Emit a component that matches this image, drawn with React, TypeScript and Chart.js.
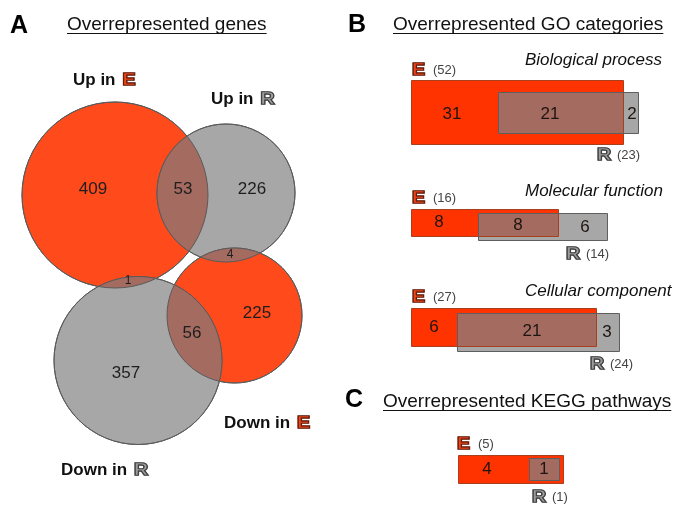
import React, { useEffect, useRef } from 'react';
import { Chart, registerables } from 'chart.js';

Chart.register(...registerables);

const W = 685;
const H = 516;

// ---------- DATA ----------
// Panel A: Venn diagrams of over-represented genes
const vennSetNames = ['Up in', 'Up in', 'Down in', 'Down in'];
const vennSetIcons = ['E', 'R', 'E', 'R'];
// regions: UpE only, UpE∩UpR, UpR only, UpR∩DownE, UpE∩DownR, DownE only, DownE∩DownR, DownR only
const vennRegionCounts = [409, 53, 226, 4, 1, 225, 56, 357];

// Panel B: GO categories
const goCategories = ['Biological process', 'Molecular function', 'Cellular component'];
const goEOnly = [31, 8, 6];
const goShared = [21, 8, 21];
const goROnly = [2, 6, 3];

// Panel C: KEGG pathways
const keggEOnly = [4];
const keggShared = [1];
const keggROnly = [0];

// ---------- LAYOUT (diagram units, 1 unit = 1 px) ----------
const vennCircles = [
  { cx: 115, cy: 195, r: 93, kind: 'E' },
  { cx: 226, cy: 193, r: 69, kind: 'R' },
  { cx: 234.5, cy: 315.5, r: 67.5, kind: 'E' },
  { cx: 138, cy: 360.5, r: 84, kind: 'R' },
];
const vennRegionPos = [
  [93, 189, 17], [183, 189, 17], [252, 189, 17], [230, 255, 12],
  [128, 281, 12], [257, 313, 17], [192, 333, 17], [126, 373, 17],
];
const vennSetLabelPos = [[73, 80], [211, 99], [224, 423], [61, 470]];

type Box = { x0: number; x1: number; y0: number; y1: number };
type Group = {
  titleY?: number;
  eIcon: [number, number]; rIcon: [number, number];
  eBar: Box; rBar: Box;
  numPos: [number, number][];
};
const goLayout: Group[] = [
  {
    titleY: 60, eIcon: [412, 70], rIcon: [597, 155],
    eBar: { x0: 411, x1: 623, y0: 80, y1: 144 }, rBar: { x0: 498, x1: 638, y0: 92, y1: 133 },
    numPos: [[452, 114], [550, 114], [632, 114]],
  },
  {
    titleY: 191, eIcon: [412, 198], rIcon: [566, 254],
    eBar: { x0: 411, x1: 558, y0: 209, y1: 236 }, rBar: { x0: 478, x1: 607, y0: 213, y1: 240 },
    numPos: [[439, 222], [518, 225], [585, 227]],
  },
  {
    titleY: 291, eIcon: [412, 297], rIcon: [590, 364],
    eBar: { x0: 411, x1: 596, y0: 308, y1: 346 }, rBar: { x0: 457, x1: 619, y0: 313, y1: 351 },
    numPos: [[434, 327], [532, 331], [607, 332]],
  },
];
const keggLayout: Group = {
  eIcon: [457, 444], rIcon: [532, 497],
  eBar: { x0: 458, x1: 563, y0: 455, y1: 483 }, rBar: { x0: 529, x1: 559, y0: 458, y1: 480 },
  numPos: [[487, 469], [544, 469], [0, 0]],
};

// ---------- STYLE ----------
const VENN_ORANGE = '#FF4B1B';
const BAR_ORANGE = '#FF3300';
const GRAY = '#A7A7A7';
const BROWN = '#A46B60';
const OUTLINE = '#5A5A5A';
const FONT = '"Liberation Sans", Arial, sans-serif';

function drawIcon(ctx: CanvasRenderingContext2D, letter: string, x: number, y: number, size = 16) {
  ctx.save();
  ctx.font = `bold ${size}px ${FONT}`;
  ctx.textAlign = 'left';
  ctx.textBaseline = 'middle';
  ctx.translate(x, y + 0.5);
  ctx.scale(1.22, 1);
  ctx.lineJoin = 'miter';
  if (letter === 'E') {
    ctx.fillStyle = '#EE4418';
    ctx.strokeStyle = '#5E1A0A';
  } else {
    ctx.fillStyle = '#9C9C9C';
    ctx.strokeStyle = '#3C3C3C';
  }
  ctx.lineWidth = 1.6;
  ctx.strokeText(letter, 0, 0);
  ctx.fillText(letter, 0, 0);
  ctx.lineWidth = 0.6;
  ctx.strokeText(letter, 0, 0);
  ctx.restore();
}

const diagramPlugin = {
  id: 'diagram',
  afterDatasetsDraw(chart: any) {
    const ctx: CanvasRenderingContext2D = chart.ctx;
    const xs = chart.scales.x;
    const ys = chart.scales.y;
    const X = (v: number) => xs.getPixelForValue(v);
    const Y = (v: number) => ys.getPixelForValue(v);
    const k = X(1) - X(0);

    ctx.save();
    // ---- Venn overlaps ----
    const circlePath = (c: any) => {
      ctx.beginPath();
      ctx.arc(X(c.cx), Y(c.cy), c.r * k, 0, Math.PI * 2);
    };
    vennCircles.forEach((a) => {
      if (a.kind !== 'E') return;
      vennCircles.forEach((b) => {
        if (b.kind !== 'R') return;
        ctx.save();
        circlePath(a);
        ctx.clip();
        circlePath(b);
        ctx.fillStyle = BROWN;
        ctx.fill();
        ctx.restore();
      });
    });
    ctx.strokeStyle = OUTLINE;
    ctx.lineWidth = 1;
    vennCircles.forEach((c) => { circlePath(c); ctx.stroke(); });

    // Venn counts
    ctx.fillStyle = '#1E1E1E';
    ctx.textAlign = 'center';
    ctx.textBaseline = 'middle';
    vennRegionCounts.forEach((n, i) => {
      const [x, y, s] = vennRegionPos[i];
      ctx.font = `${s}px ${FONT}`;
      ctx.fillText(String(n), X(x), Y(y));
    });

    // Venn set labels
    vennSetNames.forEach((name, i) => {
      const [x, y] = vennSetLabelPos[i];
      ctx.font = `bold 17px ${FONT}`;
      ctx.fillStyle = '#111';
      ctx.textAlign = 'left';
      ctx.textBaseline = 'middle';
      ctx.fillText(name, X(x), Y(y));
      const w = ctx.measureText(name).width;
      drawIcon(ctx, vennSetIcons[i], X(x) + w + 7, Y(y));
    });

    // ---- Bars ----
    const drawGroup = (g: Group, eOnly: number, shared: number, rOnly: number, title?: string) => {
      const rect = (b: Box) => {
        ctx.beginPath();
        ctx.rect(X(b.x0) + 0.5, Y(b.y0) + 0.5, X(b.x1) - X(b.x0), Y(b.y1) - Y(b.y0));
      };
      const e = g.eBar, r = g.rBar;
      rect(e); ctx.fillStyle = BAR_ORANGE; ctx.fill();
      rect(r); ctx.fillStyle = GRAY; ctx.fill();
      const ov: Box = {
        x0: Math.max(e.x0, r.x0), x1: Math.min(e.x1, r.x1),
        y0: Math.max(e.y0, r.y0), y1: Math.min(e.y1, r.y1),
      };
      rect(ov); ctx.fillStyle = BROWN; ctx.fill();
      ctx.lineWidth = 1;
      rect(e); ctx.strokeStyle = '#A8401E'; ctx.stroke();
      rect(r); ctx.strokeStyle = '#5E5E5E'; ctx.stroke();

      ctx.fillStyle = '#1E1410';
      ctx.font = `17px ${FONT}`;
      ctx.textAlign = 'center';
      ctx.textBaseline = 'middle';
      const vals = [eOnly, shared, rOnly];
      vals.forEach((v, i) => {
        if (v <= 0) return;
        ctx.fillText(String(v), X(g.numPos[i][0]), Y(g.numPos[i][1]));
      });

      drawIcon(ctx, 'E', X(g.eIcon[0]), Y(g.eIcon[1]));
      ctx.font = `13px ${FONT}`;
      ctx.fillStyle = '#444';
      ctx.textAlign = 'left';
      ctx.textBaseline = 'middle';
      ctx.fillText(`(${eOnly + shared})`, X(g.eIcon[0]) + 21, Y(g.eIcon[1]));
      drawIcon(ctx, 'R', X(g.rIcon[0]), Y(g.rIcon[1]));
      ctx.font = `13px ${FONT}`;
      ctx.fillStyle = '#444';
      ctx.fillText(`(${shared + rOnly})`, X(g.rIcon[0]) + 20, Y(g.rIcon[1]));

      if (title && g.titleY !== undefined) {
        ctx.font = `italic 17px ${FONT}`;
        ctx.fillStyle = '#111';
        ctx.fillText(title, X(525), Y(g.titleY));
      }
    };
    goCategories.forEach((c, i) => drawGroup(goLayout[i], goEOnly[i], goShared[i], goROnly[i], c));
    drawGroup(keggLayout, keggEOnly[0], keggShared[0], keggROnly[0]);

    // ---- Panel letters & titles ----
    const panel = (letter: string, lx: number, lBase: number, title: string, tx: number, tBase: number) => {
      ctx.fillStyle = '#000';
      ctx.textAlign = 'left';
      ctx.textBaseline = 'alphabetic';
      ctx.font = `bold 25px ${FONT}`;
      ctx.fillText(letter, X(lx), Y(lBase));
      ctx.font = `19px ${FONT}`;
      ctx.fillStyle = '#111';
      ctx.fillText(title, X(tx), Y(tBase));
      const w = ctx.measureText(title).width;
      ctx.strokeStyle = '#111';
      ctx.lineWidth = 1;
      ctx.beginPath();
      ctx.moveTo(X(tx), Math.round(Y(tBase + 2.5)) + 0.5);
      ctx.lineTo(X(tx) + w, Math.round(Y(tBase + 2.5)) + 0.5);
      ctx.stroke();
    };
    panel('A', 10, 33, 'Overrepresented genes', 67, 30);
    panel('B', 348, 32, 'Overrepresented GO categories', 393, 30);
    panel('C', 345, 407, 'Overrepresented KEGG pathways', 383, 407);

    ctx.restore();
  },
};

export default function App() {
  const ref = useRef<HTMLCanvasElement | null>(null);
  useEffect(() => {
    if (!ref.current) return;
    const chart = new Chart(ref.current, {
      type: 'bubble',
      data: {
        datasets: [
          {
            label: 'Venn sets',
            data: vennCircles.map((c) => ({ x: c.cx, y: c.cy, r: c.r })),
            backgroundColor: vennCircles.map((c) => (c.kind === 'E' ? VENN_ORANGE : GRAY)),
            borderColor: OUTLINE,
            borderWidth: 1,
            hoverRadius: 0,
            clip: false as any,
          },
        ],
      },
      options: {
        responsive: false,
        animation: false,
        events: [],
        layout: { padding: 0, autoPadding: false },
        plugins: { legend: { display: false }, tooltip: { enabled: false } },
        scales: {
          x: { type: 'linear', min: 0, max: W, display: false },
          y: { type: 'linear', min: 0, max: H, reverse: true, display: false },
        },
      },
      plugins: [diagramPlugin],
    });
    return () => chart.destroy();
  }, []);
  return (
    <div style={{ position: 'fixed', left: 0, top: 0, width: W, height: H, background: '#fff' }}>
      <canvas ref={ref} width={W} height={H} style={{ display: 'block' }} />
    </div>
  );
}
